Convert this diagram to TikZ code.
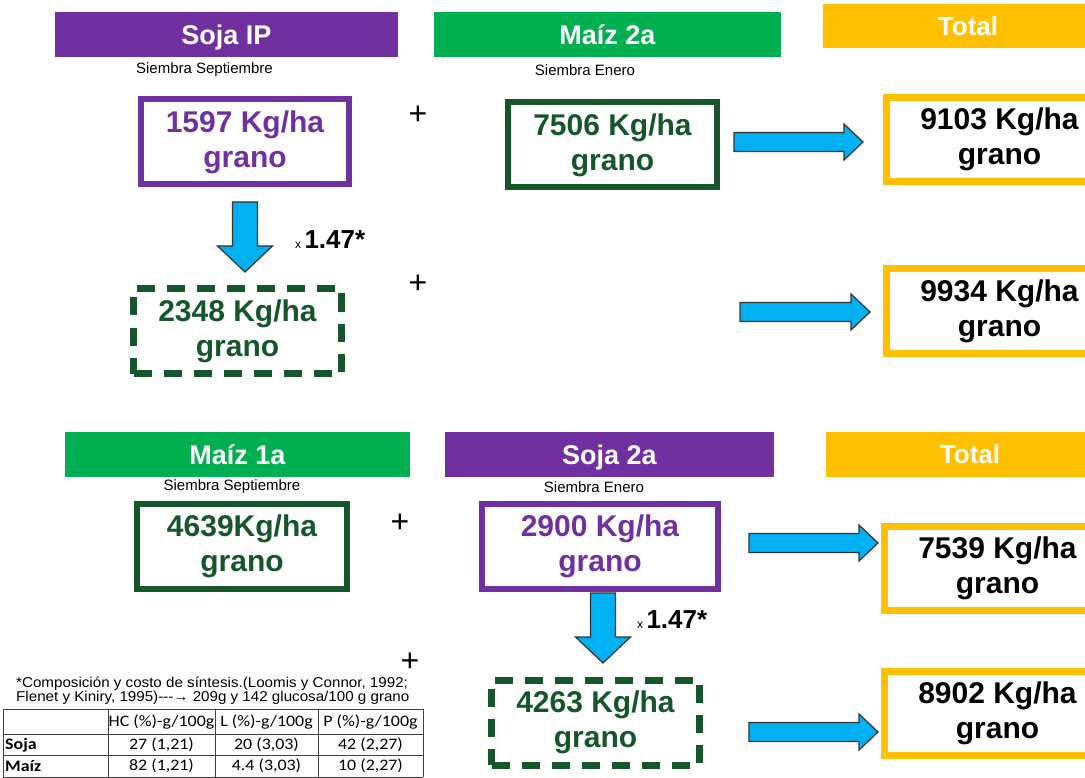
\documentclass[tikz,border=0pt]{standalone}
\usepackage{fontspec}
\setmainfont{Liberation Sans}
\newfontfamily\notefont[FakeStretch=1.06]{Liberation Sans}
\newfontfamily\calibrifont[FakeStretch=1.12]{Carlito}
\usetikzlibrary{calc}
\definecolor{soyPurple}{RGB}{112,48,160}
\definecolor{cornGreen}{RGB}{0,176,80}
\definecolor{deepGreen}{RGB}{21,87,43}
\definecolor{totalGold}{RGB}{255,192,0}
\definecolor{arrowBlue}{RGB}{0,176,240}

\tikzset{
  header/.style={minimum width=#1, minimum height=45, inner sep=0, text=white,
    text height=19.3, text depth=0, font=\fontsize{27}{27}\selectfont\bfseries},
  sowing/.style={inner sep=0, font=\fontsize{15}{15}\selectfont},
  valbox/.style={draw, line width=6, fill=white, minimum width=#1, minimum height=85,
    align=center, inner sep=0, font=\fontsize{30}{35}\selectfont\bfseries},
  totalbox/.style={valbox=227, draw=totalGold, line width=7, minimum height=84, text=black},
  dashbox/.style={valbox=208, draw=deepGreen, text=deepGreen, line width=7,
    dash pattern=on 18pt off 12pt},
  factor/.style={anchor=west, inner sep=0},
  plussign/.style={inner sep=0, text height=14, text depth=0, font=\fontsize{32}{32}\selectfont},
  note/.style={anchor=west, inner sep=0, font=\notefont\fontsize{14.3}{14.3}\selectfont},
  tabcell/.style={inner sep=0, font=\calibrifont\fontsize{16}{16}\selectfont},
  tablerule/.style={line width=1, black!75},
  fatright/.style={draw=black!80, line width=1.2, fill=arrowBlue,
    to path={($(\tikztostart)+(0,-9.5)$) -- ($(\tikztotarget)+(-19,-9.5)$)
      -- ($(\tikztotarget)+(-19,-18)$) -- (\tikztotarget) -- ($(\tikztotarget)+(-19,18)$)
      -- ($(\tikztotarget)+(-19,9.5)$) -- ($(\tikztostart)+(0,9.5)$) -- cycle}},
  fatdown/.style={draw=black!80, line width=1.2, fill=arrowBlue,
    to path={($(\tikztostart)+(-12.5,0)$) -- ($(\tikztotarget)+(-12.5,-26)$)
      -- ($(\tikztotarget)+(-27.5,-26)$) -- (\tikztotarget) -- ($(\tikztotarget)+(27.5,-26)$)
      -- ($(\tikztotarget)+(12.5,-26)$) -- ($(\tikztostart)+(12.5,0)$) -- cycle}}
}

\begin{document}
\begin{tikzpicture}[x=1pt,y=-1pt]
    \clip (0,0) rectangle (1085,778);
    \fill[white] (0,0) rectangle (1085,778);

    % column headers
    \node[header=343, fill=soyPurple] (hSojaIP) at (226.5,34.5) {Soja IP};
    \node[header=347, fill=cornGreen] (hMaizB) at (607.5,35) {Maíz 2a};
    \node[header=290, minimum height=44, fill=totalGold, text height=18.6,
          font=\fontsize{26}{26}\selectfont\bfseries] (hTotalA) at (968,26) {Total};
    \node[header=345, fill=cornGreen] (hMaizA) at (237.5,454.5) {Maíz 1a};
    \node[header=329, fill=soyPurple] (hSojaB) at (609.5,454.5) {Soja 2a};
    \node[header=288, fill=totalGold, text height=18.6,
          font=\fontsize{26}{26}\selectfont\bfseries] (hTotalB) at (970,454.5) {Total};

    \node[sowing] (sTopL) at (204.5,70) {Siembra Septiembre};
    \node[sowing] (sTopR) at (585,70) {Siembra Enero};
    \node[sowing] (sBotL) at (232,487) {Siembra Septiembre};
    \node[sowing] (sBotR) at (594,487) {Siembra Enero};

    % yields
    \node[valbox=208, draw=soyPurple, text=soyPurple] (n1597) at (245,142) {1597 Kg/ha\\grano};
    \node[valbox=209, draw=deepGreen, text=deepGreen] (n7506) at (612.5,145) {7506 Kg/ha\\grano};
    \node[dashbox] (n2348) at (237.5,331) {2348 Kg/ha\\grano};
    \node[valbox=210, draw=deepGreen, text=deepGreen] (n4639) at (242,546.5) {4639Kg/ha\\grano};
    \node[valbox=236, draw=soyPurple, text=soyPurple] (n2900) at (600,546.5) {2900 Kg/ha\\grano};
    \node[dashbox] (n4263) at (595.5,722.5) {4263 Kg/ha\\grano};

    \node[totalbox] (n9103) at (999.5,139.5) {9103 Kg/ha\\grano};
    \node[totalbox] (n9934) at (999.5,311) {9934 Kg/ha\\grano};
    \node[totalbox] (n7539) at (997.5,568) {7539 Kg/ha\\grano};
    \node[totalbox] (n8902) at (997.5,713) {8902 Kg/ha\\grano};

    \foreach \x/\y [count=\i] in {418/118,418/287,400/525,410/664} {
       \node[plussign] (plus\i) at (\x,\y) {+};
     }

    \node[factor] (fTop) at (295,240) {\fontsize{12}{12}\selectfont x \fontsize{26}{26}\selectfont\bfseries 1.47*};
    \node[factor] (fBot) at (637,620) {\fontsize{12}{12}\selectfont x \fontsize{26}{26}\selectfont\bfseries 1.47*};

    % block arrows
    \coordinate (d1a) at (245,202);  \coordinate (d1b) at (245,272);
    \coordinate (d2a) at (603,593);  \coordinate (d2b) at (603,663);
    \coordinate (r1a) at (734,142);  \coordinate (r1b) at (863,142);
    \coordinate (r2a) at (740,312);  \coordinate (r2b) at (870,312);
    \coordinate (r3a) at (749,543);  \coordinate (r3b) at (878,543);
    \coordinate (r4a) at (749,732);  \coordinate (r4b) at (878,732);
    \draw[fatdown] (d1a) to (d1b);
    \draw[fatdown] (d2a) to (d2b);
    \foreach \r in {r1,r2,r3,r4} {
       \draw[fatright] (\r a) to (\r b);
     }

    % footnote and table
    \node[note] (note1) at (16,684) {*Composición y costo de síntesis.(Loomis y Connor, 1992;};
    \node[note] (note2) at (16,698) {Flenet y Kiniry, 1995)-{}-{}-→ 209g y 142 glucosa/100 g grano};

    \foreach \y in {709,734,755,777} {
       \draw[tablerule] (3,\y) -- (423,\y);
     }
    \foreach \x in {3,108,215,318,423} {
       \draw[tablerule] (\x,709) -- (\x,777);
     }
    \node[tabcell, anchor=west] (rSoja) at (5,745) {\bfseries Soja};
    \node[tabcell, anchor=west] (rMaiz) at (5,766) {\bfseries Maíz};
    \foreach \x/\h/\a/\b [count=\i] in {161.5/HC/{27 (1,21)}/{82 (1,21)},
                                        266.5/L/{20 (3,03)}/{4.4 (3,03)},
                                        370.5/P/{42 (2,27)}/{10 (2,27)}} {
       \node[tabcell] (head\i) at (\x,722) {\h{} (\%)-g/100g};
       \node[tabcell] (soja\i) at (\x,745) {\a};
       \node[tabcell] (maiz\i) at (\x,766) {\b};
     }
\end{tikzpicture}
\end{document}
